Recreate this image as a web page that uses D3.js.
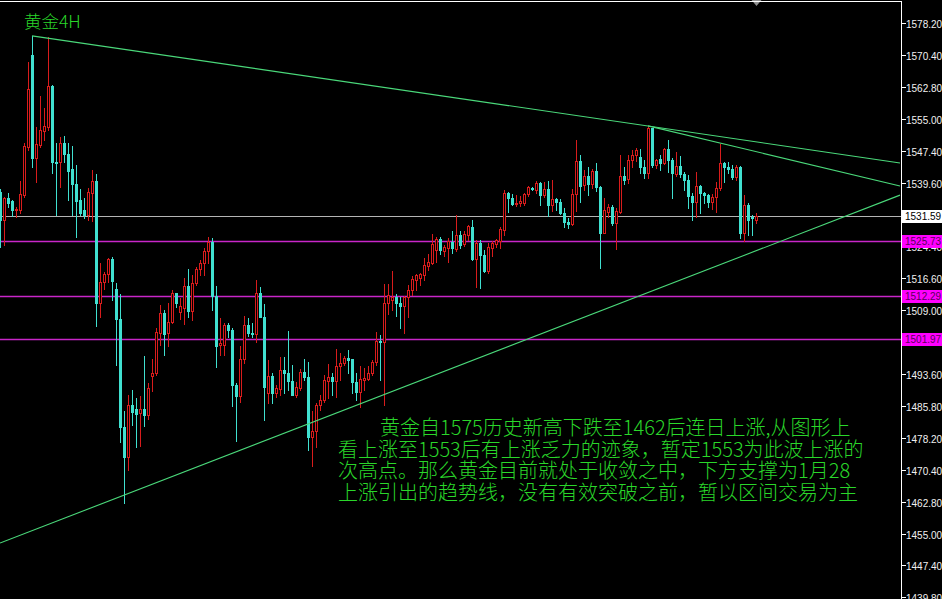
<!DOCTYPE html>
<html><head><meta charset="utf-8">
<script src="https://cdn.jsdelivr.net/npm/d3@7"></script>
<style>html,body{margin:0;padding:0;background:#000;overflow:hidden}</style>
</head><body>
<svg id="c" width="942" height="599"></svg>
<script>
// ---- data ----
const opens = [1537.5,1530.7,1536.0,1535.3,1533.0,1533.1,1536.7,1548.3,1570.5,1545.6,1548.8,1552.2,1553.1,1563.0,1544.8,1544.8,1549.3,1546.5,1542.9,1539.4,
1535.5,1533.0,1531.9,1537.2,1540.1,1510.8,1515.7,1517.6,1521.3,1514.0,1506.9,1480.9,1473.5,1486.1,1485.1,1484.1,1485.1,1483.7,1493.2,1493.7,
1503.4,1508.2,1503.4,1506.1,1513.0,1508.4,1509.6,1514.8,1508.8,1515.6,1518.8,1520.4,1523.2,1525.5,1512.4,1500.5,1500.6,1505.4,1504.2,1490.9,
1488.3,1497.1,1505.4,1503.4,1503.2,1513.0,1507.4,1489.1,1493.1,1489.1,1489.9,1494.5,1493.7,1492.0,1488.5,1490.1,1494.1,1492.9,1478.3,1479.9,
1486.1,1487.3,1492.0,1492.9,1492.0,1495.5,1496.3,1497.4,1497.1,1491.7,1489.3,1492.1,1492.3,1493.7,1496.5,1501.6,1501.4,1510.6,1511.4,1512.2,
1510.8,1510.0,1512.2,1513.8,1516.2,1516.7,1517.4,1519.6,1520.4,1523.5,1526.0,1523.3,1523.9,1525.5,1523.6,1527.1,1524.9,1527.1,1529.1,1521.2,
1525.2,1522.3,1518.5,1523.9,1525.0,1525.7,1528.3,1537.2,1535.9,1534.5,1534.7,1534.7,1537.0,1538.4,1538.0,1539.7,1536.7,1538.1,1534.3,1535.7,
1535.1,1532.3,1530.3,1529.7,1537.0,1545.0,1539.1,1541.3,1539.4,1542.4,1538.7,1527.6,1532.7,1533.8,1529.9,1532.7,1541.3,1540.5,1545.2,1546.4,
1546.0,1543.6,1542.0,1552.8,1544.0,1545.3,1544.4,1547.7,1545.2,1541.8,1543.7,1541.8,1540.3,1536.5,1535.1,1538.9,1537.2,1536.7,1535.1,1536.2,
1538.4,1544.4,1543.4,1542.9,1541.1,1543.6,1527.5,1534.3,1531.5,1530.7];
const highs = [1538.2,1536.3,1537.2,1535.5,1533.9,1540.2,1549.3,1568.9,1575.1,1553.2,1560.6,1557.7,1574.8,1563.3,1549.2,1550.6,1551.0,1549.3,1548.5,1544.0,
1538.1,1535.9,1538.4,1542.8,1541.8,1520.3,1518.2,1521.6,1521.7,1515.6,1512.8,1484.7,1488.5,1489.7,1487.7,1488.3,1497.9,1491.3,1497.1,1504.6,
1510.2,1509.0,1510.8,1513.8,1513.0,1511.8,1516.6,1518.8,1517.4,1519.3,1521.0,1523.9,1526.5,1526.3,1514.8,1507.0,1505.9,1505.8,1504.6,1491.5,
1500.2,1507.6,1507.0,1505.9,1516.2,1514.6,1510.4,1497.0,1493.7,1490.9,1497.7,1497.7,1504.0,1495.7,1491.7,1494.7,1497.1,1496.5,1484.7,1486.5,
1488.5,1493.3,1496.0,1493.7,1499.5,1498.6,1497.9,1499.4,1497.3,1493.7,1495.5,1494.9,1495.5,1496.9,1503.8,1503.0,1515.3,1515.3,1518.4,1512.9,
1512.2,1512.4,1515.0,1517.2,1517.7,1518.0,1521.5,1522.5,1527.3,1526.6,1526.5,1524.7,1526.3,1528.1,1531.9,1528.1,1528.1,1529.5,1530.7,1525.9,
1525.9,1523.5,1525.2,1525.7,1526.1,1529.1,1537.9,1537.5,1536.9,1536.7,1536.5,1537.1,1539.0,1538.7,1540.2,1539.9,1539.9,1540.2,1540.3,1535.9,
1535.7,1533.5,1531.1,1538.1,1550.0,1546.4,1542.8,1543.6,1542.9,1544.4,1539.0,1535.9,1534.6,1534.3,1533.5,1546.4,1543.6,1546.4,1547.5,1548.0,
1547.8,1545.2,1553.4,1553.0,1545.3,1546.4,1548.0,1550.0,1545.6,1547.2,1546.1,1542.3,1541.6,1537.3,1542.3,1539.1,1537.5,1537.0,1537.0,1539.9,
1549.0,1544.8,1544.8,1543.9,1543.9,1543.7,1536.7,1534.7,1531.9,1532.3];
const lows = [1524.2,1524.7,1533.9,1531.7,1531.5,1532.5,1536.3,1547.6,1543.6,1539.9,1548.4,1550.0,1552.4,1542.1,1531.9,1538.7,1544.8,1535.5,1531.9,1526.7,
1531.9,1531.1,1530.7,1530.5,1505.2,1507.4,1514.0,1515.8,1511.4,1495.8,1477.2,1462.4,1470.4,1481.3,1476.0,1476.2,1481.0,1482.6,1489.5,1493.3,
1500.6,1498.2,1500.3,1505.8,1509.8,1506.9,1505.6,1507.2,1506.6,1515.0,1517.5,1517.4,1520.3,1509.0,1495.2,1498.2,1498.2,1502.6,1485.9,1477.5,
1486.7,1496.2,1502.7,1502.5,1501.4,1507.4,1482.5,1486.5,1486.5,1488.0,1488.5,1488.9,1489.7,1488.5,1488.0,1489.7,1492.1,1475.2,1471.4,1476.0,
1484.9,1486.9,1487.7,1488.5,1488.1,1492.1,1495.7,1493.7,1489.0,1487.3,1485.7,1489.7,1492.1,1493.3,1495.7,1492.1,1486.1,1508.0,1509.0,1507.6,
1504.6,1503.4,1507.4,1512.6,1513.8,1515.0,1516.2,1518.6,1520.1,1520.6,1522.5,1521.9,1520.6,1522.8,1523.3,1523.9,1524.4,1525.9,1521.1,1514.6,
1514.2,1518.2,1517.9,1522.0,1524.3,1523.9,1527.1,1532.6,1534.3,1534.1,1534.1,1534.3,1536.5,1537.9,1537.2,1534.3,1536.2,1531.7,1532.9,1533.1,
1532.1,1529.1,1528.7,1529.4,1532.9,1535.1,1537.9,1536.7,1538.4,1537.8,1519.1,1527.5,1531.5,1529.5,1523.6,1532.5,1539.4,1539.6,1543.6,1545.0,
1542.0,1540.8,1540.8,1543.6,1543.2,1542.8,1544.2,1542.3,1535.9,1541.3,1541.0,1537.9,1533.5,1530.7,1531.5,1532.5,1534.7,1533.8,1533.3,1532.7,
1537.9,1539.9,1542.0,1540.5,1540.3,1526.3,1525.7,1527.1,1527.1,1529.9];
const closes = [1530.7,1536.0,1534.8,1533.1,1533.4,1537.0,1548.6,1562.2,1545.6,1549.0,1552.4,1553.4,1563.0,1544.8,1544.5,1549.2,1546.5,1542.6,1539.4,1535.4,
1532.5,1531.9,1537.4,1540.1,1510.8,1515.7,1517.6,1521.3,1516.1,1506.9,1480.9,1473.5,1486.1,1484.5,1483.9,1485.1,1483.7,1490.1,1493.9,1503.8,
1508.2,1503.2,1506.1,1513.0,1510.8,1510.0,1514.8,1508.8,1515.6,1518.8,1520.4,1523.2,1525.5,1512.4,1500.3,1501.0,1505.4,1504.2,1490.9,1488.3,
1497.1,1505.4,1503.4,1503.2,1513.0,1507.4,1490.5,1493.1,1489.1,1490.1,1494.5,1493.7,1492.0,1488.5,1490.5,1494.1,1492.9,1478.3,1479.9,1486.1,
1487.3,1492.1,1492.9,1492.0,1495.5,1496.3,1497.4,1496.9,1491.7,1489.3,1492.3,1492.5,1493.7,1496.5,1501.6,1501.4,1510.6,1512.6,1512.2,1510.8,
1510.0,1512.2,1513.8,1516.4,1517.4,1517.6,1519.9,1520.6,1524.9,1526.0,1523.5,1524.1,1525.7,1523.9,1527.1,1524.7,1527.3,1529.3,1521.2,1525.2,
1522.3,1518.5,1524.1,1525.1,1525.9,1528.5,1537.2,1535.9,1534.6,1534.9,1535.4,1537.0,1538.7,1538.1,1539.7,1536.7,1538.1,1534.3,1535.7,1535.1,
1532.3,1530.3,1529.7,1537.0,1545.0,1538.9,1541.3,1539.4,1542.4,1538.7,1527.6,1533.1,1533.8,1529.9,1532.9,1541.3,1540.3,1545.2,1546.4,1547.6,
1543.6,1542.1,1552.8,1544.0,1545.2,1544.4,1547.7,1545.2,1542.0,1543.7,1541.8,1540.3,1536.5,1535.1,1538.9,1537.2,1536.7,1535.1,1536.2,1538.4,
1544.4,1543.4,1542.9,1541.1,1543.6,1527.5,1534.3,1530.7,1531.1,1531.6];

const tickLabels = ["1578.20","1570.40","1562.80","1555.00","1547.40","1539.60","1524.40","1516.60","1509.00",
  "1493.60","1485.80","1478.20","1470.40","1462.80","1455.00","1447.40","1439.80"];
const levelPrices = [1525.73, 1512.29, 1501.97];
const currentPrice = 1531.59;
// trend lines: [bar index 1, price 1, bar index 2, price 2]
const trendLines = [[8,1575.1,225,1544.45],[162,1553.4,225,1538.9],[0,1452.8,225,1536.7]];
const titleText = "黄金4H";
const noteLines = [
  "黄金自1575历史新高下跌至1462后连日上涨,从图形上",
  "看上涨至1553后有上涨乏力的迹象，暂定1553为此波上涨的",
  "次高点。那么黄金目前就处于收敛之中，下方支撑为1月28",
  "上涨引出的趋势线，没有有效突破之前，暂以区间交易为主"
];

// ---- drawing ----
const W = 942, H = 599, plotR = 901;
const svg = d3.select("#c");
svg.append("rect").attr("width",W).attr("height",H).attr("fill","#000");

const x = d3.scaleLinear().domain([0,225]).range([0,900]);
const y = d3.scaleLinear().domain([1439.8,1578.2]).range([597,23]);

svg.append("defs").append("clipPath").attr("id","pc")
  .append("rect").attr("x",0).attr("y",0).attr("width",plotR).attr("height",H);

const plot = svg.append("g").attr("clip-path","url(#pc)");

// horizontal levels
plot.append("line").attr("x1",0).attr("x2",plotR)
  .attr("y1",Math.round(y(currentPrice))+0.5).attr("y2",Math.round(y(currentPrice))+0.5)
  .attr("stroke","#b4b4b4").attr("stroke-width",1);
plot.selectAll("line.lvl").data(levelPrices).join("line").attr("class","lvl")
  .attr("x1",0).attr("x2",plotR)
  .attr("y1",d=>Math.round(y(d))+0.5).attr("y2",d=>Math.round(y(d))+0.5)
  .attr("stroke","#c826c8").attr("stroke-width",1.3);

// candles
const RED = "#d81c1c", TQ = "#40e0d0";
const bars = d3.range(opens.length).map(i=>({i,o:opens[i],h:highs[i],l:lows[i],c:closes[i]}));
const g = plot.append("g");
bars.forEach(b=>{
  const cx = Math.round(x(b.i));
  const up = b.c >= b.o;
  const col = up ? RED : TQ;
  const yh = Math.round(y(b.h)), yl = Math.round(y(b.l));
  const yt = Math.round(y(Math.max(b.o,b.c))), yb = Math.round(y(Math.min(b.o,b.c)));
  g.append("rect").attr("x",cx).attr("y",yh).attr("width",1).attr("height",Math.max(1,yl-yh+1)).attr("fill",col);
  g.append("rect").attr("x",cx-1).attr("y",yt).attr("width",3).attr("height",Math.max(1,yb-yt+1)).attr("fill",col);
  if(up && yb-yt-1>0){
    g.append("rect").attr("x",cx).attr("y",yt+1).attr("width",1).attr("height",yb-yt-1).attr("fill","#000");
  }
});

// trend lines
plot.selectAll("line.tl").data(trendLines).join("line").attr("class","tl")
  .attr("x1",d=>x(d[0])).attr("y1",d=>y(d[1])).attr("x2",d=>x(d[2])).attr("y2",d=>y(d[3]))
  .attr("stroke","#4ad87a").attr("stroke-width",1.1);

// shift marker
const lx = Math.round(x(bars.length-1))+0.5;
svg.append("path").attr("d",`M${lx-5},0L${lx+5},0L${lx},6Z`).attr("fill","#909090");

// frame
svg.append("line").attr("x1",0).attr("x2",plotR+0.5).attr("y1",1.5).attr("y2",1.5).attr("stroke","#fff");
svg.append("line").attr("x1",plotR+0.5).attr("x2",plotR+0.5).attr("y1",1).attr("y2",H).attr("stroke","#fff");

// axis ticks & labels
const ax = svg.append("g");
tickLabels.forEach(t=>{
  const yy = Math.round(y(+t))+0.5;
  ax.append("line").attr("x1",plotR).attr("x2",plotR+5).attr("y1",yy).attr("y2",yy).attr("stroke","#fff");
  ax.append("text").attr("x",906).attr("y",yy+4).text(t)
    .attr("fill","#f0f0f0").attr("font-family","Liberation Sans, Arial, sans-serif").attr("font-size","10px");
});

// price boxes
function box(p, bg, fg){
  const yy = Math.round(y(p));
  ax.append("rect").attr("x",902).attr("y",yy-6).attr("width",40).attr("height",13).attr("fill",bg);
  ax.append("text").attr("x",905).attr("y",yy+4).text(p.toFixed(2))
    .attr("fill",fg).attr("font-family","Liberation Sans, Arial, sans-serif").attr("font-size","10px");
}
box(currentPrice,"#ffffff","#000000");
levelPrices.forEach(p=>box(p,"#ff00ff","#5a005a"));

// title
svg.append("text").attr("x",24).attr("y",28).text(titleText)
  .attr("fill","#2ad62a").attr("font-family","Noto Sans CJK SC, sans-serif").attr("font-weight",300).attr("font-size","17.5px");

// annotation
const nx = [380,338,338,338];
noteLines.forEach((t,k)=>{
  svg.append("text").attr("x",nx[k]).attr("y",435+k*21.5).text(t)
    .attr("fill","#2ad62a").attr("font-family","Noto Sans CJK SC, sans-serif").attr("font-weight",300).attr("font-size","20px");
});
</script>
</body></html>
